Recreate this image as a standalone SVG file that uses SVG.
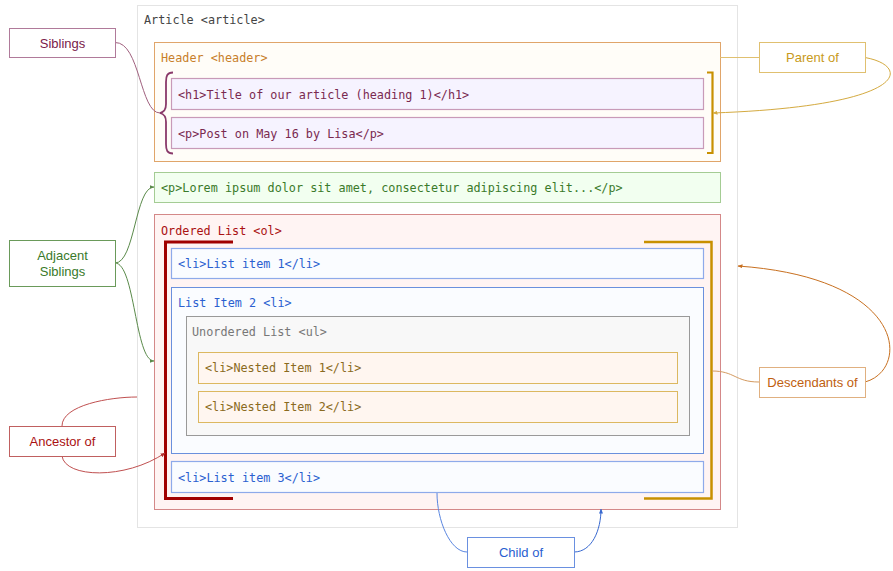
<svg xmlns="http://www.w3.org/2000/svg" width="893" height="571" viewBox="0 0 893 571">
<style>
.m{font-family:"DejaVu Sans Mono","Liberation Mono",monospace;font-size:11.8px;dominant-baseline:central}
.s{font-family:"Liberation Sans",Arial,sans-serif;font-size:13px;text-anchor:middle;dominant-baseline:central}
.c{fill:none;stroke-width:1}
</style>
<defs>
<marker id="aP" viewBox="0 0 10 10" refX="9" refY="5" markerWidth="5" markerHeight="5" orient="auto"><path d="M0,1 L10,5 L0,9z" fill="#d4aa40"/></marker>
<marker id="aG" viewBox="0 0 10 10" refX="9" refY="5" markerWidth="5" markerHeight="5" orient="auto"><path d="M0,1 L10,5 L0,9z" fill="#5a8a4a"/></marker>
<marker id="aR" viewBox="0 0 10 10" refX="9" refY="5" markerWidth="5" markerHeight="5" orient="auto"><path d="M0,1 L10,5 L0,9z" fill="#b03030"/></marker>
<marker id="aO" viewBox="0 0 10 10" refX="9" refY="5" markerWidth="5" markerHeight="5" orient="auto"><path d="M0,1 L10,5 L0,9z" fill="#c87020"/></marker>
<marker id="aB" viewBox="0 0 10 10" refX="9" refY="5" markerWidth="5" markerHeight="5" orient="auto"><path d="M0,1 L10,5 L0,9z" fill="#3a6ad0"/></marker>
</defs>
<rect width="893" height="571" fill="#fff"/>
<g id="article">
<rect x="137.5" y="5.5" width="600" height="522" fill="#fff" stroke="#e4e4e4"/>
<text class="m" x="144" y="20" fill="#444">Article &lt;article&gt;</text>
</g>
<g id="header">
<rect x="154.5" y="42.5" width="566" height="119" fill="#fffdf8" stroke="#e0a56a"/>
<text class="m" x="161" y="58" fill="#c87f2a">Header &lt;header&gt;</text>
</g>
<g id="h1">
<rect x="171.5" y="78.5" width="532" height="31" fill="#f6f3ff" stroke="#c89ab8" stroke-width="1.2"/>
<text class="m" x="178" y="94.5" fill="#7a2a50">&lt;h1&gt;Title of our article (heading 1)&lt;/h1&gt;</text>
</g>
<g id="p1">
<rect x="171.5" y="117.5" width="532" height="31" fill="#f6f3ff" stroke="#c89ab8" stroke-width="1.2"/>
<text class="m" x="178" y="133.5" fill="#7a2a50">&lt;p&gt;Post on May 16 by Lisa&lt;/p&gt;</text>
</g>
<g id="p2">
<rect x="154.5" y="172.5" width="566" height="30" fill="#f2fff0" stroke="#a4cc94"/>
<text class="m" x="161" y="187.5" fill="#3a7a2a">&lt;p&gt;Lorem ipsum dolor sit amet, consectetur adipiscing elit...&lt;/p&gt;</text>
</g>
<g id="ol">
<rect x="154.5" y="214.5" width="566" height="295" fill="#fff4f3" stroke="#d48888"/>
<text class="m" x="161" y="231" fill="#aa1111">Ordered List &lt;ol&gt;</text>
</g>
<g id="li1">
<rect x="171.5" y="248.5" width="532" height="30" fill="#fafcff" stroke="#8eaaea" stroke-width="1.2"/>
<text class="m" x="178" y="263.5" fill="#2a60d0">&lt;li&gt;List item 1&lt;/li&gt;</text>
</g>
<g id="li2">
<rect x="171.5" y="287.5" width="532" height="166" fill="#fafcff" stroke="#6a90dd" stroke-width="1"/>
<text class="m" x="178" y="303" fill="#2a60d0">List Item 2 &lt;li&gt;</text>
</g>
<g id="ul">
<rect x="186.5" y="316.5" width="503" height="119" fill="#f8f8f8" stroke="#999"/>
<text class="m" x="192" y="332" fill="#777">Unordered List &lt;ul&gt;</text>
</g>
<g id="nested1">
<rect x="198.5" y="352.5" width="479" height="31" fill="#fff6f0" stroke="#dcb860"/>
<text class="m" x="205" y="368" fill="#8a6a20">&lt;li&gt;Nested Item 1&lt;/li&gt;</text>
</g>
<g id="nested2">
<rect x="198.5" y="391.5" width="479" height="31" fill="#fff6f0" stroke="#dcb860"/>
<text class="m" x="205" y="407" fill="#8a6a20">&lt;li&gt;Nested Item 2&lt;/li&gt;</text>
</g>
<g id="li3">
<rect x="171.5" y="461.5" width="532" height="31" fill="#fafcff" stroke="#8eaaea" stroke-width="1.2"/>
<text class="m" x="178" y="477.5" fill="#2a60d0">&lt;li&gt;List item 3&lt;/li&gt;</text>
</g>
<g id="brackets" fill="none">
<path d="M173,72.5 C167,72.5 166,76 166,82 L166,104 C166,110 164,112 160,113 C164,114 166,116 166,122 L166,144 C166,150 167,153.5 173,153.5" stroke="#8a3a6a" stroke-width="1.8"/>
<path d="M707,72.5 L712.5,72.5 L712.5,153 L707,153" stroke="#c89000" stroke-width="2.2"/>
<path d="M233,242 L165.5,242 L165.5,498.5 L233,498.5" stroke="#a00000" stroke-width="3"/>
<path d="M644,242 L711.5,242 L711.5,498.5 L644,498.5" stroke="#c89000" stroke-width="2.5"/>
</g>
<g id="connectors">
<path class="c" d="M115,42.5 C140,42 140,113 160,113" stroke="#a0607e"/>
<path class="c" d="M720,57.5 L759,57.5" stroke="#e0c070"/>
<path class="c" d="M865,57.5 C912,66 910,106 713,113" stroke="#d4aa40" marker-end="url(#aP)"/>
<path class="c" d="M115,263 C135,263 135,187 154,187" stroke="#5a8a4a" marker-end="url(#aG)"/>
<path class="c" d="M115,263 C135,263 135,361 154,361" stroke="#5a8a4a" marker-end="url(#aG)"/>
<path class="c" d="M62,426 C62,405 110,397 137,397" stroke="#c05050"/>
<path class="c" d="M62,456 C65,478 125,480 165,453" stroke="#c05050" marker-end="url(#aR)"/>
<path class="c" d="M759,382 C735,382 735,371 712,371" stroke="#d49a60"/>
<path class="c" d="M865,382 C910,370 908,278 738,266" stroke="#c87020" marker-end="url(#aO)"/>
<path class="c" d="M437,493 C437,520 450,552 467,552" stroke="#5a86e0"/>
<path class="c" d="M574,552 C592,552 601,530 601,509" stroke="#3a6ad0" marker-end="url(#aB)"/>
</g>
<g id="siblings">
<rect x="9.5" y="28.5" width="106" height="29" fill="#fff" stroke="#b07a9a"/>
<text class="s" x="62.5" y="43" fill="#7a1a4a">Siblings</text>
</g>
<g id="parent-of">
<rect x="759.5" y="42.5" width="106" height="30" fill="#fff" stroke="#e0c070"/>
<text class="s" x="812.5" y="57.5" fill="#c89a20">Parent of</text>
</g>
<g id="adjacent-siblings">
<rect x="9.5" y="240.5" width="106" height="46" fill="#fff" stroke="#6a9a5a"/>
<text class="s" x="62.5" y="255.5" fill="#3a7a2a">Adjacent</text>
<text class="s" x="62.5" y="271" fill="#3a7a2a">Siblings</text>
</g>
<g id="ancestor-of">
<rect x="9.5" y="426.5" width="106" height="30" fill="#fff" stroke="#c06060"/>
<text class="s" x="62.5" y="441.5" fill="#aa1111">Ancestor of</text>
</g>
<g id="descendants-of">
<rect x="759.5" y="367.5" width="106" height="30" fill="#fff" stroke="#e0b080"/>
<text class="s" x="812.5" y="382.5" fill="#c06010">Descendants of</text>
</g>
<g id="child-of">
<rect x="467.5" y="537.5" width="107" height="30" fill="#fff" stroke="#6a90e0"/>
<text class="s" x="521" y="552.5" fill="#2a60d0">Child of</text>
</g>
</svg>
